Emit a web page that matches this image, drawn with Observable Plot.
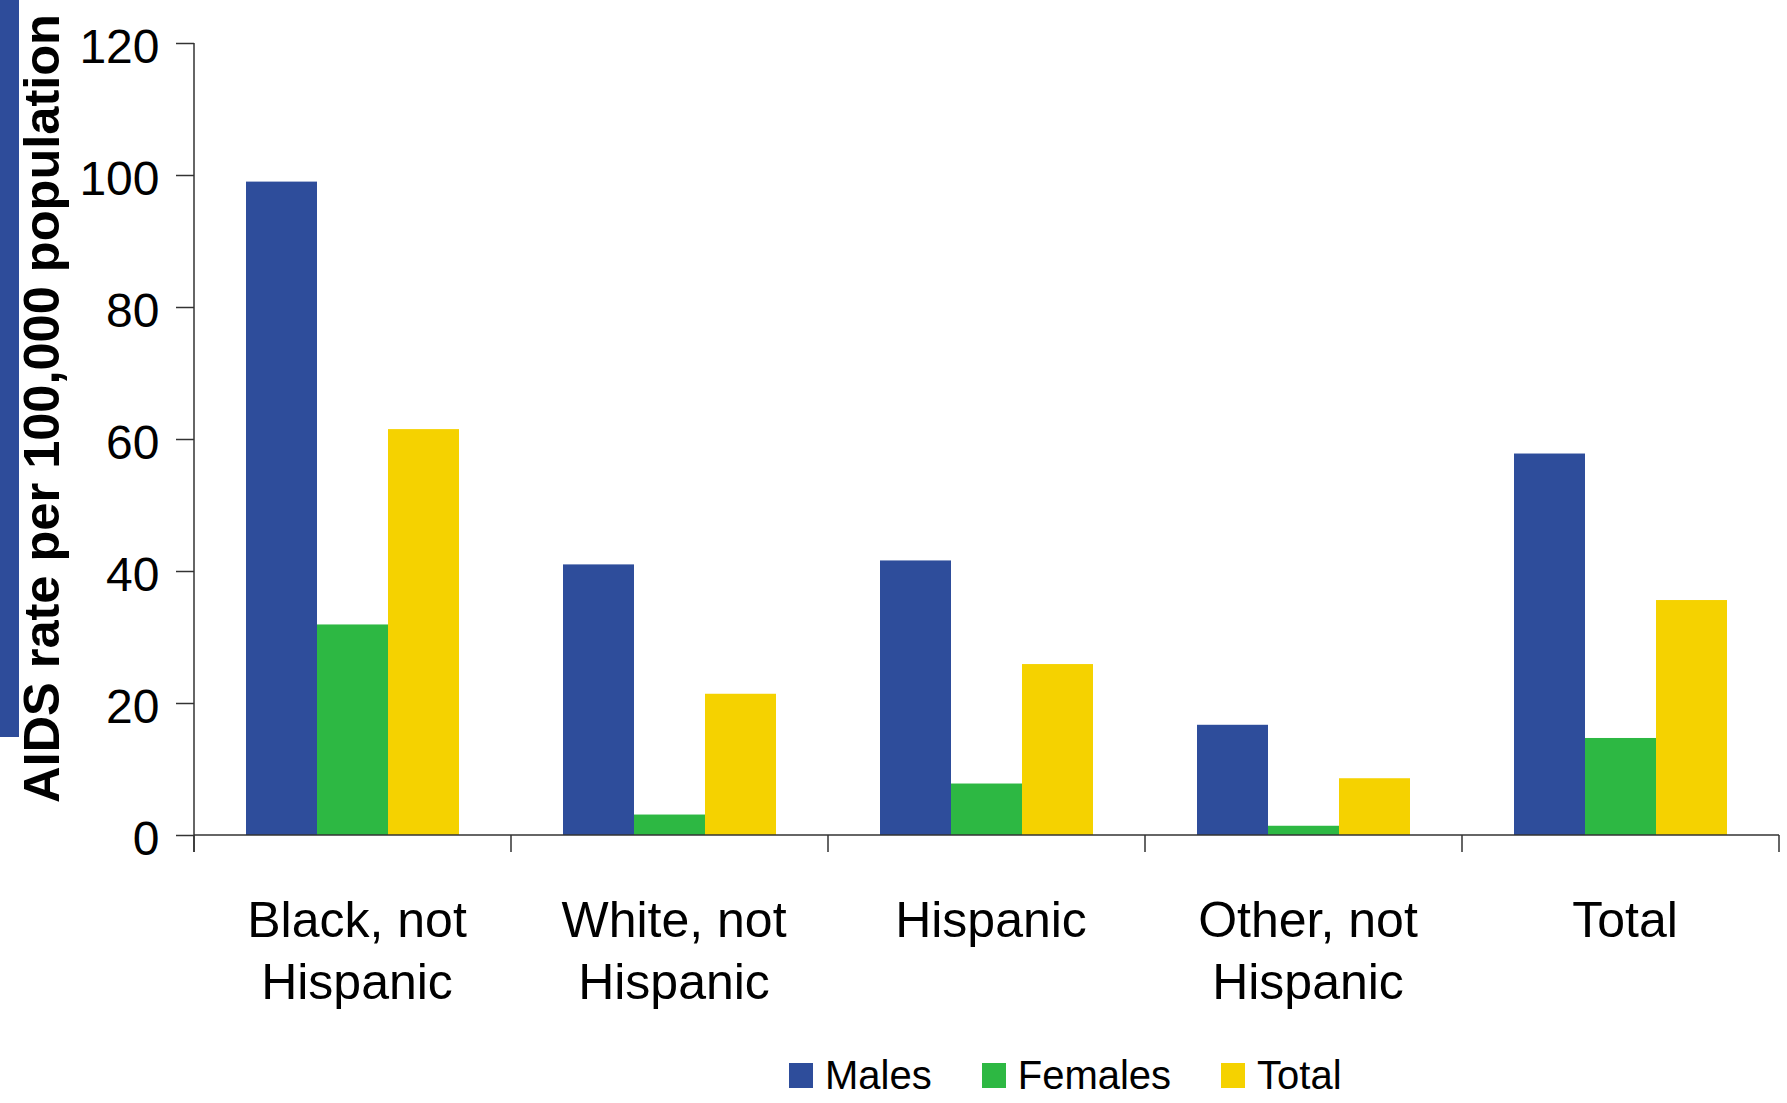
<!DOCTYPE html>
<html><head><meta charset="utf-8">
<script src="https://cdn.jsdelivr.net/npm/d3@7"></script>
<script src="https://cdn.jsdelivr.net/npm/@observablehq/plot@0.6"></script>
<style>
html,body{margin:0;padding:0;background:#fff;}
#wrap{position:relative;width:1787px;height:1103px;overflow:hidden;font-family:"Liberation Sans",Arial,sans-serif;background:#fff;}
#chart{position:absolute;left:0;top:0;}
#legend{position:absolute;left:789px;top:1056px;display:flex;align-items:center;font-size:40px;line-height:39px;color:#000;}
.item{display:flex;align-items:center;margin-right:50px;}
.sw{width:24px;height:25px;margin-right:12px;}
</style></head><body><div id="wrap"><div id="chart"></div><div id="legend"></div></div>
<script>
const categories = ["Black, not\nHispanic", "White, not\nHispanic", "Hispanic", "Other, not\nHispanic", "Total"];
const series = ["Males", "Females", "Total"];
const males = [99, 41, 41.6, 16.7, 57.8];
const females = [31.9, 3.1, 7.8, 1.4, 14.7];
const totals = [61.5, 21.4, 25.9, 8.6, 35.6];
const yTicks = [0, 20, 40, 60, 80, 100, 120];
const colors = ["#2E4D9B", "#2DB843", "#F5D200"];
const yLabel = "AIDS rate per 100,000 population";

const seriesValues = [males, females, totals];
const data = [];
categories.forEach((c, i) => {
  series.forEach((s, j) => data.push({category: c, series: s, value: seriesValues[j][i]}));
});

const W = 1787, H = 1040;
const chart = Plot.plot({
  width: W, height: H,
  marginTop: 43, marginBottom: 205, marginLeft: 194, marginRight: 8,
  style: {fontFamily: "'Liberation Sans', Arial, sans-serif", color: "#000", background: "#fff"},
  fx: {domain: categories, padding: 0, label: null},
  x: {domain: series, paddingInner: 0, paddingOuter: 0.717, axis: null},
  y: {domain: [0, 120], label: null},
  color: {domain: series, range: colors},
  marks: [
    Plot.barY(data, {fx: "category", x: "series", y: "value", fill: "series"}),
    Plot.axisY({ticks: yTicks, tickSize: 18, tickFormat: () => "", label: null, stroke: "#333", strokeWidth: 1.5}),
    Plot.axisY({ticks: yTicks, tickSize: 0, tickPadding: 35, dy: 4, fontSize: 48, label: null, fill: "#000"}),
    Plot.axisFx({anchor: "bottom", tickSize: 0, tickPadding: 57, dx: 4, fontSize: 50, lineHeight: 1.25, label: null, fill: "#000"})
  ]
});
document.getElementById("chart").appendChild(chart);

const svg = d3.select(chart);
const fx = chart.scale("fx"), y = chart.scale("y");
const bounds = categories.map(c => fx.apply(c));
bounds.push(fx.apply(categories[categories.length - 1]) + fx.bandwidth);
const y0 = y.apply(0), yTop = y.apply(120);
const g = svg.append("g").attr("stroke", "#333").attr("stroke-width", 1.5);
g.append("line").attr("x1", bounds[0]).attr("x2", bounds[0]).attr("y1", yTop).attr("y2", y0 + 17);
g.append("line").attr("x1", bounds[0]).attr("x2", bounds[bounds.length - 1]).attr("y1", y0).attr("y2", y0);
bounds.forEach(b => g.append("line").attr("x1", b).attr("x2", b).attr("y1", y0).attr("y2", y0 + 17));

svg.insert("rect", ":first-child").attr("x", 0).attr("y", 0).attr("width", 19).attr("height", 737).attr("fill", "#2E4C9A");
svg.append("text")
  .attr("transform", `translate(59,${(14 + 803) / 2}) rotate(-90)`)
  .attr("text-anchor", "middle")
  .attr("font-weight", "bold")
  .attr("font-size", 50.5)
  .attr("fill", "#000")
  .attr("textLength", 789)
  .attr("lengthAdjust", "spacingAndGlyphs")
  .text(yLabel);

const legend = d3.select("#legend");
series.forEach((s, i) => {
  const it = legend.append("div").attr("class", "item");
  it.append("div").attr("class", "sw").style("background", colors[i]);
  it.append("span").text(s);
});
</script>
</body></html>
